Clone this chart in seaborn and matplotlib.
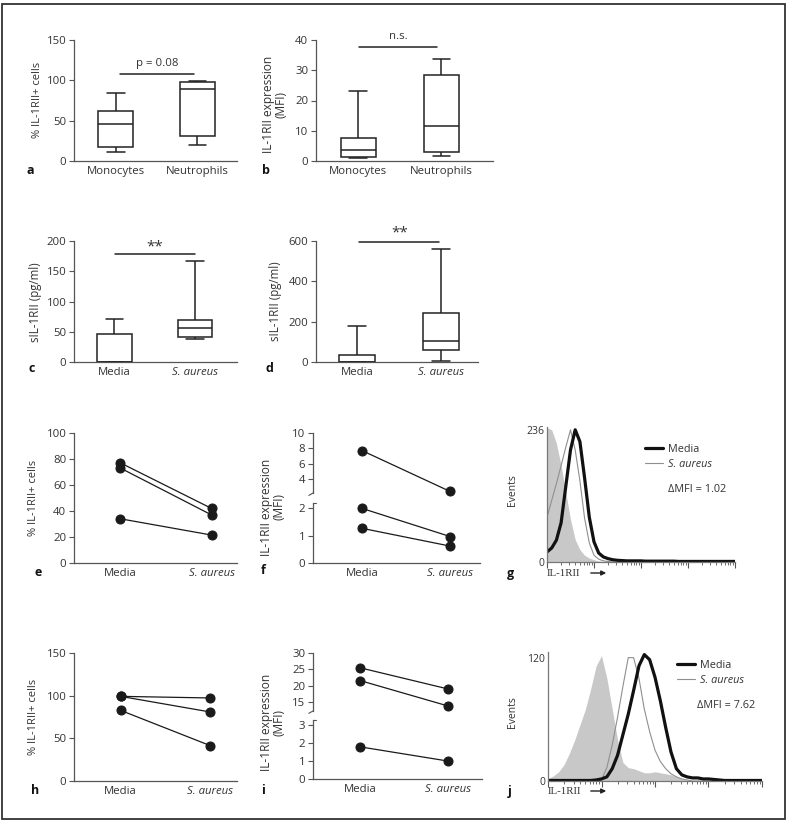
import matplotlib
matplotlib.use("Agg")
import matplotlib.pyplot as plt
import matplotlib.patches as mpatches
from matplotlib.ticker import LogLocator, NullFormatter
import numpy as np
import pandas as pd
import seaborn as sns

W, H = 787, 826

# five-number summaries (min, q1, median, q3, max)
cells = ['Monocytes', 'Neutrophils']
a_mono = [10.7, 17.3, 46.1, 62.6, 84.9]
a_neut = [19.4, 30.9, 89.8, 98.5, 99.7]
b_mono = [1.1, 1.3, 3.7, 7.6, 23.2]
b_neut = [1.5, 3.0, 11.6, 28.4, 33.8]

stim = ['Media', 'S. aureus']
c_media = [0, 0, 0, 45.7, 71]
c_saur = [38, 41.9, 56.7, 69.4, 166.4]
d_media = [0, 0, 0, 36.5, 177]
d_saur = [3, 58, 106, 245, 560]

# paired donors (media -> S. aureus)
e_media = [77, 73, 34]
e_saur = [42, 37, 21.5]
f_media = [7.7, 2.0, 1.27]
f_saur = [2.4, 0.97, 0.62]
h_media = [99.2, 99.2, 82.8]
h_saur = [97.3, 80.9, 41.5]
i_media = [25.5, 21.6, 1.8]
i_saur = [19.0, 13.8, 1.0]

# flow histograms, counts per log10 channel 0.0 .. 4.0 (step 0.1)
log_pos = [round(0.1 * k, 1) for k in range(41)]
g_iso = [240, 236, 212, 172, 124, 76, 40, 22, 12, 7, 4, 2, 1, 0.5] + [0] * 27
g_media = ([18, 25, 39, 70, 135, 200, 236, 215, 150, 80, 36, 16, 9, 6, 4, 3, 2.5,
            2, 2, 2, 2] + [1.5] * 7 + [1] * 13)
g_saur = [80, 110, 140, 172, 205, 236, 200, 145, 78, 34, 12, 5, 2, 1] + [0] * 27
j_iso = ([2.5, 5, 9, 16, 27, 40, 55, 70, 90, 112, 122, 100, 70, 40, 18, 13, 12, 10,
          8, 8, 9, 8, 7, 6, 4, 2, 1] + [0] * 14)
j_saur = ([0] * 10 + [1, 13, 35, 62, 92, 120, 120, 100, 70, 48, 30, 19, 12, 7, 4, 2, 1]
          + [0] * 14)
j_media = ([0.5] * 9 + [1, 2, 4, 12, 25, 45, 65, 88, 112, 123, 118, 101, 78, 52, 28,
                        12, 6, 4, 3, 3, 2, 2, 1.5, 1] + [0.5] * 8)

TXT = '#333333'
LN = '#222222'
FS = 8.2

sns.set_theme(style='ticks')
plt.rcParams['font.family'] = ['Open Sans', 'DejaVu Sans']

fig = plt.figure(figsize=(W / 100, H / 100), dpi=100)


def px_axes(left, top, right, bottom):
    return fig.add_axes([left / W, 1 - bottom / H, (right - left) / W, (bottom - top) / H])


def ftext(x, y, s, **kw):
    kw.setdefault('color', TXT)
    return fig.text(x / W, 1 - y / H, s, **kw)


def ylab(x, y, s, size=8.0, **kw):
    ftext(x, y, s, rotation=90, ha='center', va='center', fontsize=size, **kw)


def style_cat(ax, ylim, yticks, xlim):
    ax.set_ylim(*ylim)
    ax.set_yticks(yticks)
    ax.set_xlim(*xlim)
    ax.set_xlabel('')
    ax.set_ylabel('')
    sns.despine(ax=ax)
    for s in ('left', 'bottom'):
        ax.spines[s].set_color('#555555')
        ax.spines[s].set_linewidth(0.9)
    ax.tick_params(axis='y', left=True, length=3.5, width=0.8, color='#555555',
                   labelsize=FS, labelcolor=TXT, pad=2)
    ax.tick_params(axis='x', bottom=False, length=0, labelsize=FS, labelcolor=TXT, pad=3.5)
    for lbl in ax.get_xticklabels():
        if lbl.get_text() == 'S. aureus':
            lbl.set_style('italic')


def box_panel(ax, cats, g1, g2):
    df = pd.DataFrame({'group': [cats[0]] * len(g1) + [cats[1]] * len(g2),
                       'value': g1 + g2})
    sns.boxplot(data=df, x='group', y='value', order=cats, whis=(0, 100), width=0.43,
                color='white', linecolor=LN, linewidth=1.1, showfliers=False, ax=ax)


def sig(ax, x0, x1, y, ty, label, size=FS):
    ax.plot([x0, x1], [y, y], color=LN, lw=1.1, clip_on=False)
    ax.text((x0 + x1) / 2, ty, label, ha='center', va='center', fontsize=size,
            color=TXT, clip_on=False)


def paired_df(media, saur):
    rows = []
    for k, (m, s) in enumerate(zip(media, saur)):
        rows.append((k, 'Media', m))
        rows.append((k, 'S. aureus', s))
    return pd.DataFrame(rows, columns=['donor', 'condition', 'value'])


def paired(ax, df):
    sns.lineplot(data=df, x='condition', y='value', units='donor', estimator=None,
                 color='#1a1a1a', marker='o', markersize=6.5, markeredgecolor='#1a1a1a',
                 linewidth=0.9, legend=False, ax=ax)
    for ln in ax.lines:
        ln.set_clip_on(False)


# ---- a
ax = px_axes(74, 40, 237, 161)
box_panel(ax, cells, a_mono, a_neut)
style_cat(ax, (0, 150), [0, 50, 100, 150], (-0.516, 1.488))
sig(ax, 0.05, 0.96, 107.5, 121, 'p = 0.08')
ylab(37, 100, '% IL-1RII+ cells')

# ---- b
ax = px_axes(316, 40, 493, 161)
box_panel(ax, cells, b_mono, b_neut)
style_cat(ax, (0, 40), [0, 10, 20, 30, 40], (-0.51, 1.62))
sig(ax, 0.01, 0.95, 37.8, 41.2, 'n.s.')
ylab(275, 104, 'IL-1RII expression\n(MFI)', size=8.6, linespacing=0.95)

# ---- c
ax = px_axes(74, 241, 237, 362)
box_panel(ax, stim, c_media, c_saur)
style_cat(ax, (0, 200), [0, 50, 100, 150, 200], (-0.5, 1.52))
sig(ax, 0.01, 1.0, 178, 190, '**', size=11)
ylab(36, 302, 'sIL-1RII (pg/ml)', size=8.3)

# ---- d
ax = px_axes(316, 241, 478, 362)
box_panel(ax, stim, d_media, d_saur)
style_cat(ax, (0, 600), [0, 200, 400, 600], (-0.486, 1.443))
sig(ax, 0.03, 0.98, 597, 640, '**', size=11)
ylab(276, 301, 'sIL-1RII (pg/ml)', size=8.3)

# ---- e
ax = px_axes(74, 433, 237, 563)
paired(ax, paired_df(e_media, e_saur))
style_cat(ax, (0, 100), [0, 20, 40, 60, 80, 100], (-0.51, 1.28))
ylab(34, 498, '% IL-1RII+ cells')

# ---- h
ax = px_axes(74, 653, 237, 781)
paired(ax, paired_df(h_media, h_saur))
style_cat(ax, (0, 150), [0, 50, 100, 150], (-0.52, 1.3))
ylab(33, 717, '% IL-1RII+ cells')


# ---- f and i (broken y axis)
def broken(media, saur, left, right, up_box, lo_box, up_lim, lo_lim, up_ticks, lo_ticks, xlim):
    df = paired_df(media, saur)
    ax_u = px_axes(left, up_box[0], right, up_box[1])
    ax_l = px_axes(left, lo_box[0], right, lo_box[1])
    for axx, lim in ((ax_u, up_lim), (ax_l, lo_lim)):
        keep = [k for k in range(len(media))
                if lim[0] <= media[k] <= lim[1] and lim[0] <= saur[k] <= lim[1]]
        paired(axx, df[df['donor'].isin(keep)])
    style_cat(ax_u, up_lim, up_ticks, xlim)
    style_cat(ax_l, lo_lim, lo_ticks, xlim)
    ax_u.spines['bottom'].set_visible(False)
    ax_u.tick_params(axis='x', labelbottom=False)
    # break marks
    ax_u.plot([-0.025, 0], [-0.04, 0], transform=ax_u.transAxes, color='#555555',
              lw=0.8, clip_on=False)
    ax_l.plot([0, 0.02], [1, 1], transform=ax_l.transAxes, color='#555555',
              lw=0.8, clip_on=False)
    return ax_u, ax_l


broken(f_media, f_saur, 313, 480, (433, 493), (503, 563), (2.2, 10), (0, 2.2),
       [4, 6, 8, 10], [0, 1, 2], (-0.56, 1.34))
ylab(273, 507, 'IL-1RII expression\n(MFI)', size=8.6, linespacing=0.95)

broken(i_media, i_saur, 313, 482, (653, 711), (720, 779), (12.3, 30), (0, 3.3),
       [15, 20, 25, 30], [0, 1, 2, 3], (-0.53, 1.38))
ylab(273, 722, 'IL-1RII expression\n(MFI)', size=8.6, linespacing=0.95)


# ---- g and j (histograms)
def histo(box, iso, media, saur, top, ymax, leg_xy, mfi_xy, mfi, arrow_y):
    ax = px_axes(*box)
    xs = 10 ** np.array(log_pos)
    ax.fill_between(xs, 0, iso, color='#c8c8c8', linewidth=0, zorder=0)
    sns.lineplot(x=xs, y=saur, color='#8f8f8f', linewidth=0.8, label='S. aureus', ax=ax)
    sns.lineplot(x=xs, y=media, color='#111111', linewidth=2.3, label='Media', ax=ax)
    ax.set_xscale('log')
    ax.set_xlim(1, 1e4)
    ax.set_ylim(0, ymax)
    ax.set_yticks([0, top])
    sns.despine(ax=ax)
    for s in ('left', 'bottom'):
        ax.spines[s].set_color('#777777')
        ax.spines[s].set_linewidth(0.9)
    ax.xaxis.set_major_locator(LogLocator(base=10, numticks=10))
    ax.xaxis.set_minor_locator(LogLocator(base=10, subs=np.arange(2, 10), numticks=50))
    ax.xaxis.set_major_formatter(NullFormatter())
    ax.xaxis.set_minor_formatter(NullFormatter())
    ax.tick_params(axis='x', which='major', bottom=True, length=4, width=0.8, color='#555555')
    ax.tick_params(axis='x', which='minor', bottom=True, length=2.5, width=0.6, color='#555555')
    ax.tick_params(axis='y', left=False, length=0, labelsize=7.5, labelcolor=TXT, pad=2)
    h, l = ax.get_legend_handles_labels()
    leg = ax.legend(h[::-1], l[::-1], loc='upper left',
                    bbox_to_anchor=(leg_xy[0] / W, 1 - leg_xy[1] / H),
                    bbox_transform=fig.transFigure, frameon=False, fontsize=7.8,
                    handlelength=1.7, handletextpad=0.45, labelspacing=0.35,
                    borderpad=0, borderaxespad=0)
    for t in leg.get_texts():
        t.set_color(TXT)
        if t.get_text() == 'S. aureus':
            t.set_style('italic')
    ftext(mfi_xy[0], mfi_xy[1], 'ΔMFI = ' + mfi, ha='left', va='center', fontsize=7.8)
    ftext(box[0], arrow_y, 'IL-1RII', ha='left', va='center', fontsize=7.8,
          family=['Liberation Serif', 'DejaVu Serif'])
    fig.add_artist(mpatches.FancyArrowPatch((588 / W, 1 - arrow_y / H), (609 / W, 1 - arrow_y / H),
                                            transform=fig.transFigure, arrowstyle='-|>',
                                            mutation_scale=7, lw=1, color=LN))
    ylab(513, (box[1] + box[3]) / 2 - 4, 'Events', size=7.5)


histo((547, 427, 735, 562), g_iso, g_media, g_saur, 236, 241, (645, 444), (668, 490),
      '1.02', 573)
histo((548, 652, 762, 781), j_iso, j_media, j_saur, 120, 125.5, (677, 660), (697, 706),
      '7.62', 791)

# panel letters
for lt, x, y in [('a', 30, 171), ('b', 266, 171), ('c', 32, 368), ('d', 269, 368),
                 ('e', 38, 572), ('f', 263, 571), ('g', 510, 573), ('h', 35, 790),
                 ('i', 263, 791), ('j', 510, 792)]:
    ftext(x, y, lt, ha='center', va='center', fontsize=9, fontweight='bold', color='#111111')

# outer frame
fig.add_artist(mpatches.Rectangle((1.5 / W, 1 - 819 / H), 783 / W, 815 / H,
                                  transform=fig.transFigure, fill=False,
                                  edgecolor='#333333', lw=1.3))

fig.savefig('out.png', dpi=100, facecolor='white')
